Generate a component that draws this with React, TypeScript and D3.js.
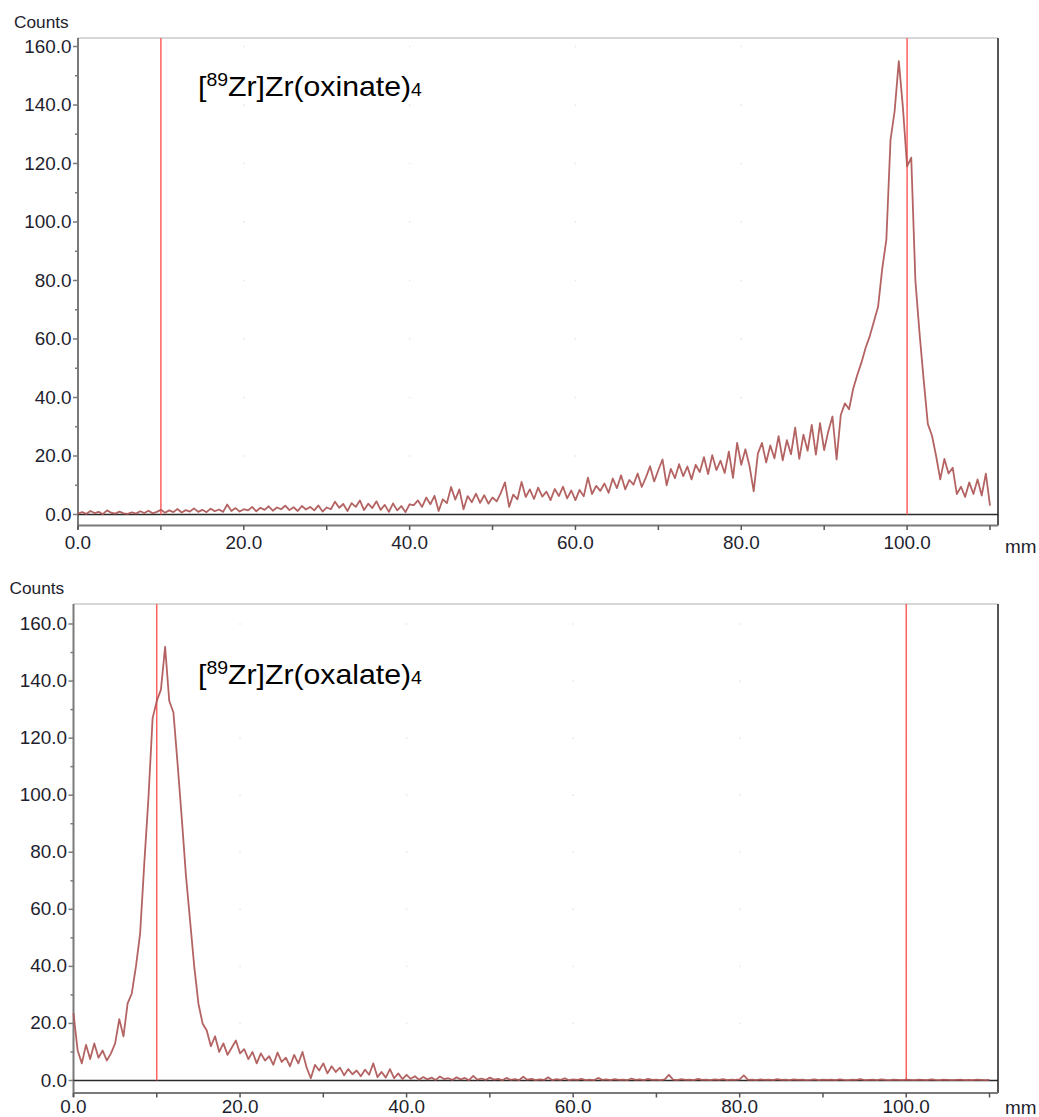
import React from "react";
import * as d3 from "d3";

// ---- data (counts sampled every 0.5 mm, 0 .. 110 mm) ----
const mmStep = 0.5;

const oxinateCounts: number[] = [
  // 0 - 10
  0.3, 0.8, 0.2, 1.2, 0.5, 0.9, 0.1, 1.4, 0.6, 0.3, 1.0, 0.4, 0.2, 0.7, 0.3, 1.1, 0.5, 1.3, 0.4, 0.9, 1.6,
  // 10.5 - 20
  0.6, 1.4, 0.8, 1.9, 0.7, 1.5, 1.0, 2.1, 0.9, 1.6, 0.8, 2.0, 1.1, 1.7, 0.9, 3.4, 1.2, 2.2, 1.0, 1.8,
  // 20.5 - 30
  1.4, 2.6, 1.1, 2.3, 1.6, 2.8, 1.3, 2.4, 1.8, 3.0, 1.5, 2.5, 1.2, 2.9, 1.7, 2.6, 1.4, 3.1, 1.0, 2.4,
  // 30.5 - 40
  1.8, 4.4, 2.3, 3.6, 1.2, 3.9, 2.6, 4.8, 1.5, 3.7, 2.2, 4.5, 1.6, 3.3, 0.9, 3.8, 1.4, 2.9, 0.8, 3.5,
  // 40.5 - 50
  3.2, 4.8, 2.6, 5.8, 3.5, 6.4, 1.2, 5.2, 3.9, 9.4, 5.1, 8.6, 1.8, 6.3, 4.2, 7.1, 4.0, 6.6, 3.7, 5.8,
  // 50.5 - 60
  4.5, 7.4, 11.0, 2.6, 6.8, 5.2, 11.1, 6.0, 8.6, 5.3, 9.2, 6.1, 7.8, 4.9, 8.7, 6.3, 9.5, 5.5, 8.2, 4.9,
  // 60.5 - 70
  8.4, 6.2, 12.6, 7.0, 9.8, 8.1, 10.6, 7.4, 12.3, 9.0, 13.4, 8.6, 11.8, 10.2, 14.0, 9.4, 12.7, 16.5, 11.3, 15.2,
  // 70.5 - 80
  18.8, 10.0, 15.6, 12.4, 17.2, 13.1, 16.4, 12.0, 17.0, 14.5, 19.6, 13.8, 20.3, 15.2, 18.4, 14.2, 21.5, 12.5, 24.5, 17.0,
  // 80.5 - 90
  22.3, 16.5, 7.9, 20.8, 24.5, 17.8, 23.6, 19.2, 26.8, 18.5, 25.4, 20.6, 29.7, 19.0, 27.3, 21.8, 30.6, 20.5, 31.2, 22.0,
  // 90.5 - 100
  28.5, 33.5, 18.8, 34.0, 38.0, 36.0, 43.0, 47.8, 52.0, 57.0, 61.0, 66.0, 71.0, 84.0, 94.0, 128.0, 138.0, 155.0, 139.0, 119.0,
  // 100.5 - 110
  122.0, 80.0, 62.0, 46.0, 31.0, 27.0, 20.0, 12.0, 19.0, 14.0, 16.0, 7.0, 9.5, 6.0, 11.0, 7.0, 12.0, 6.5, 14.0, 3.0,
];

const oxalateCounts: number[] = [
  // 0 - 10
  23.5, 10.5, 6.0, 12.5, 7.5, 13.0, 8.0, 10.5, 7.0, 9.5, 13.0, 21.5, 15.5, 27.0, 30.5, 40.0, 51.5, 76.0, 99.0, 127.0, 133.0,
  // 10.5 - 20
  137.0, 152.0, 133.0, 129.0, 111.0, 92.0, 72.0, 56.0, 40.0, 27.0, 20.0, 17.5, 12.0, 15.5, 10.0, 13.0, 9.0, 11.5, 14.0, 9.5,
  // 20.5 - 30
  11.0, 7.5, 10.0, 6.0, 9.5, 7.0, 8.5, 5.5, 9.8, 6.5, 8.0, 5.0, 9.0, 6.0, 10.0, 4.5, 0.8, 5.5, 3.5, 6.0,
  // 30.5 - 40
  2.5, 5.0, 3.0, 4.5, 1.8, 4.0, 2.2, 3.5, 1.5, 3.8, 2.0, 6.0, 1.2, 3.0, 1.0, 4.0, 0.8, 2.5, 0.5, 2.0,
  // 40.5 - 50
  0.6, 1.5, 0.3, 1.2, 0.4, 1.0, 0.2, 1.4, 0.5, 0.8, 0.2, 1.1, 0.4, 0.9, 0.1, 1.6, 0.3, 0.7, 0.2, 1.0,
  // 50.5 - 60
  0.3, 0.6, 0.1, 0.9, 0.2, 0.5, 0.1, 1.3, 0.3, 0.6, 0.1, 0.4, 0.2, 1.1, 0.1, 0.5, 0.2, 0.8, 0.1, 0.4,
  // 60.5 - 70
  0.2, 0.6, 0.1, 0.3, 0.1, 0.9, 0.2, 0.4, 0.1, 0.5, 0.2, 0.3, 0.1, 0.7, 0.2, 0.4, 0.1, 0.6, 0.2, 0.3,
  // 70.5 - 80
  0.1, 0.4, 2.0, 0.3, 0.1, 0.5, 0.2, 0.3, 0.1, 0.6, 0.2, 0.3, 0.1, 0.4, 0.2, 0.5, 0.1, 0.3, 0.2, 0.4,
  // 80.5 - 90
  1.8, 0.2, 0.3, 0.1, 0.4, 0.2, 0.3, 0.1, 0.5, 0.2, 0.3, 0.1, 0.4, 0.2, 0.3, 0.1, 0.2, 0.4, 0.1, 0.3,
  // 90.5 - 100
  0.2, 0.3, 0.1, 0.4, 0.2, 0.1, 0.3, 0.2, 0.5, 0.1, 0.2, 0.3, 0.1, 0.4, 0.2, 0.1, 0.3, 0.2, 0.1, 0.3,
  // 100.5 - 110
  0.2, 0.1, 0.3, 0.2, 0.1, 0.4, 0.2, 0.1, 0.3, 0.2, 0.1, 0.2, 0.3, 0.1, 0.2, 0.1, 0.3, 0.2, 0.1, 0.2,
];

const xDomain = [0, 110];
const yMajorTicks = [0, 20, 40, 60, 80, 100, 120, 140, 160];
const yMinorTicks = [10, 30, 50, 70, 90, 110, 130, 150];
const xMajorTicks = [0, 20, 40, 60, 80, 100];
const xMinorTicks = [10, 30, 50, 70, 90, 110];
const markerPositions = [10, 100];
const yAxisTitle = "Counts";
const xUnit = "mm";
const compoundNames = ["oxinate", "oxalate"];

const FONT = "Arial, 'Liberation Sans', Helvetica, sans-serif";
const TEXT_COLOR = "#1e1e2e";
const AXIS_COLOR = "#7a7a7a";
const TRACE_COLOR = "#ae5656";
const MARKER_COLOR = "#ff4a4a";
const SX = 1.08;

type PanelLayout = {
  x0: number;
  x110: number;
  right: number;
  frameTop: number;
  zeroY: number;
  y160: number;
  axisY: number;
  countsX: number;
  countsY: number;
  tickLabelY: number;
  unitY: number;
  annX: number;
  annY: number;
};

const layouts: PanelLayout[] = [
  {
    x0: 78, x110: 990, right: 998, frameTop: 38, zeroY: 514.5, y160: 46.5, axisY: 525.5,
    countsX: 14, countsY: 28, tickLabelY: 549, unitY: 553, annX: 198, annY: 96,
  },
  {
    x0: 73.5, x110: 989.5, right: 998, frameTop: 604, zeroY: 1080.5, y160: 624, axisY: 1093,
    countsX: 9.5, countsY: 594, tickLabelY: 1113, unitY: 1114, annX: 198, annY: 684,
  },
];

function Label({ x, y, anchor = "start", size = 17.5, children }: any) {
  return (
    <text
      transform={`translate(${x},${y}) scale(${SX},1)`}
      textAnchor={anchor}
      fontFamily={FONT}
      fontSize={size}
      fill={TEXT_COLOR}
    >
      {children}
    </text>
  );
}

function Panel({ layout, values, name }: { layout: PanelLayout; values: number[]; name: string }) {
  const L = layout;
  const x = d3.scaleLinear().domain(xDomain).range([L.x0, L.x110]);
  const y = d3.scaleLinear().domain([0, 160]).range([L.zeroY, L.y160]);
  const line = d3
    .line<number>()
    .x((_, i) => x(i * mmStep))
    .y((d) => y(d));
  const fmt = d3.format(".1f");

  return (
    <g>
      {/* faint grid dots */}
      {xMajorTicks.slice(1).map((xv) =>
        yMajorTicks.slice(1).map((yv) => (
          <rect key={`g${xv}-${yv}`} x={x(xv) - 0.75} y={y(yv) - 0.75} width={1.5} height={1.5} fill="#e4e6f0" />
        ))
      )}
      {/* frame */}
      <line x1={L.x0} x2={L.right} y1={L.frameTop} y2={L.frameTop} stroke="#b0b0b0" strokeWidth={1.2} />
      <line x1={L.right} x2={L.right} y1={L.frameTop} y2={L.axisY} stroke="#555" strokeWidth={2} />
      <line x1={L.x0} x2={L.right} y1={L.axisY} y2={L.axisY} stroke={AXIS_COLOR} strokeWidth={2} />
      <line x1={L.x0} x2={L.x0} y1={L.frameTop} y2={L.axisY + 4} stroke={AXIS_COLOR} strokeWidth={2} />
      {/* y ticks */}
      {yMajorTicks.map((t) => (
        <line key={`ym${t}`} x1={L.x0 - 5} x2={L.x0} y1={y(t)} y2={y(t)} stroke={AXIS_COLOR} strokeWidth={1.5} />
      ))}
      {yMinorTicks.map((t) => (
        <line key={`yn${t}`} x1={L.x0 - 3} x2={L.x0} y1={y(t)} y2={y(t)} stroke={AXIS_COLOR} strokeWidth={1.5} />
      ))}
      {yMajorTicks.map((t) => (
        <Label key={`yl${t}`} x={L.x0 - 6.5} y={y(t) + 6} anchor="end">
          {fmt(t)}
        </Label>
      ))}
      {/* x ticks */}
      {[...xMajorTicks, ...xMinorTicks].map((t) => (
        <line key={`xt${t}`} x1={x(t)} x2={x(t)} y1={L.axisY} y2={L.axisY + 4.5} stroke="#555" strokeWidth={1.5} />
      ))}
      {xMajorTicks.map((t) => (
        <Label key={`xl${t}`} x={x(t)} y={L.tickLabelY} anchor="middle">
          {fmt(t)}
        </Label>
      ))}
      <Label x={1005} y={L.unitY}>{xUnit}</Label>
      <Label x={L.countsX} y={L.countsY} size={16}>{yAxisTitle}</Label>
      {/* zero line */}
      <line x1={L.x0} x2={L.right} y1={L.zeroY} y2={L.zeroY} stroke="#2a2a2a" strokeWidth={1.6} />
      {/* marker lines */}
      {markerPositions.map((m) => (
        <line key={`m${m}`} x1={x(m)} x2={x(m)} y1={L.frameTop} y2={L.zeroY} stroke={MARKER_COLOR} strokeWidth={1.3} />
      ))}
      {/* trace */}
      <path d={line(values) || ""} fill="none" stroke={TRACE_COLOR} strokeWidth={1.8} strokeOpacity={0.92} strokeLinejoin="round" />
      {/* annotation */}
      <text
        transform={`translate(${L.annX},${L.annY}) scale(${SX},1)`}
        fontFamily={FONT}
        fontSize={28}
        fill="#000"
      >
        <tspan>[</tspan>
        <tspan fontSize={18} dy={-10}>89</tspan>
        <tspan dy={10}>Zr]Zr({name})</tspan>
        <tspan fontSize={18}>4</tspan>
      </text>
    </g>
  );
}

export default function App() {
  const series = [oxinateCounts, oxalateCounts];
  return (
    <svg
      width={1039}
      height={1117}
      viewBox="0 0 1039 1117"
      style={{ position: "absolute", left: 0, top: 0, background: "#fff" }}
    >
      <rect x={0} y={0} width={1039} height={1117} fill="#fff" />
      {layouts.map((L, i) => (
        <Panel key={i} layout={L} values={series[i]} name={compoundNames[i]} />
      ))}
    </svg>
  );
}
